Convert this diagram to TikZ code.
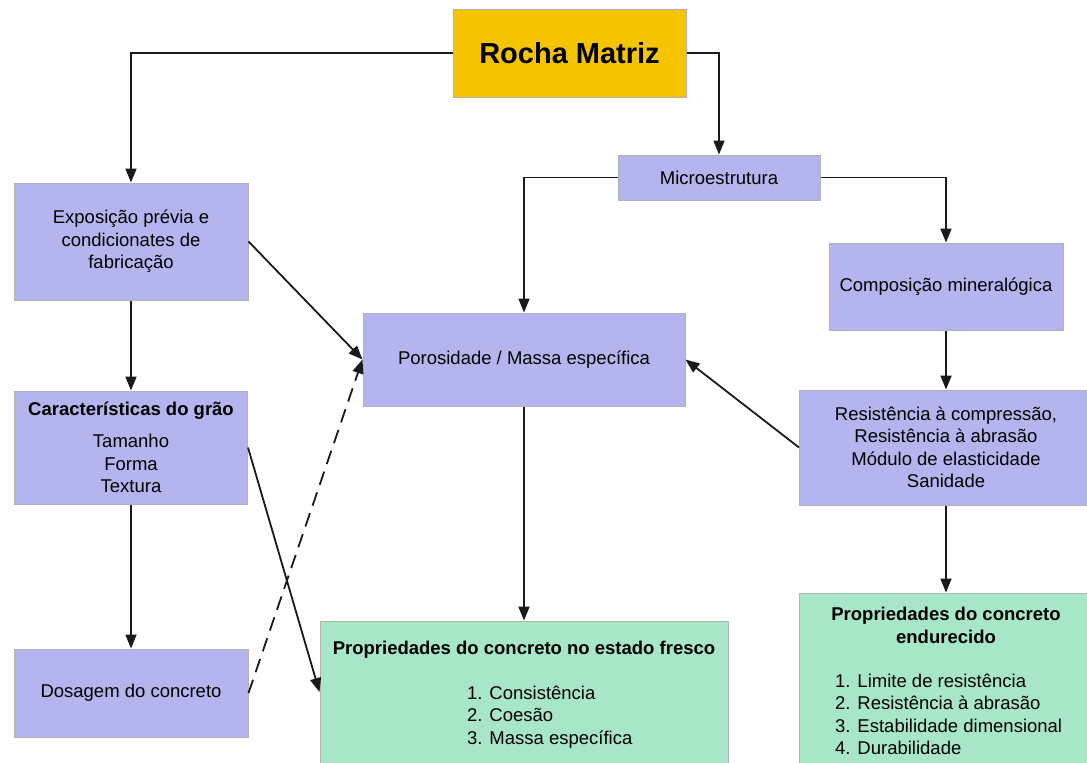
\documentclass[tikz,border=0pt]{standalone}
\usepackage{fontspec}
\setmainfont{Liberation Sans}
\usetikzlibrary{positioning,arrows.meta}
\definecolor{boxLavender}{HTML}{B4B4EE}
\definecolor{boxGreen}{HTML}{A8E6C8}
\definecolor{boxGold}{HTML}{F5C400}
\definecolor{lineDark}{HTML}{1A1A1A}

\tikzset{
  box/.style={draw=gray!60, line width=1pt, fill=boxLavender, inner sep=0pt, align=center,
    font=\fontsize{18.5}{22.5}\selectfont},
  propbox/.style={box, fill=boxGreen},
  txt/.style={inner sep=0pt, font=\fontsize{18.5}{22.5}\selectfont},
  link/.style={draw=lineDark, line width=1.8pt, -{Triangle[length=14pt,width=11pt]}},
  dashlink/.style={link, dash pattern=on 14pt off 8pt}
}

\begin{document}
\begin{tikzpicture}[x=1pt,y=-1pt]
  \clip (0,0) rectangle (1087,763);
  \fill[white] (0,0) rectangle (1087,763);

  % boxes
  \node[box, fill=boxGold, minimum width=233pt, minimum height=88pt,
    font=\fontsize{29}{32}\selectfont\bfseries] (rocha) at (569.5,53) {Rocha Matriz};
  \node[box, minimum width=202pt, minimum height=45pt] (micro) at (719,177.5) {Microestrutura};
  \node[box, minimum width=234pt, minimum height=117pt] (expo) at (131,241.5)
    {Exposição prévia e\\condicionates de\\fabricação};
  \node[box, minimum width=234pt, minimum height=87pt] (compo) at (946,286.5) {Composição mineralógica};
  \node[box, minimum width=322pt, minimum height=93pt] (poros) at (524,359.5) {Porosidade / Massa específica};
  \node[box, minimum width=233pt, minimum height=113pt] (carac) at (131,447.5)
    {\textbf{Características do grão}\\[10pt]Tamanho\\Forma\\Textura};
  \node[box, minimum width=293pt, minimum height=115pt] (resist) at (946,447.5)
    {Resistência à compressão,\\Resistência à abrasão\\Módulo de elasticidade\\Sanidade};
  \node[box, minimum width=234pt, minimum height=88pt] (dosag) at (131,693) {Dosagem do concreto};
  \node[propbox, minimum width=408pt, minimum height=142pt] (fresco) at (524,692) {};
  \node[propbox, minimum width=293pt, minimum height=170pt] (endur) at (946,678) {};

  % texts of the green boxes
  \node[txt, below=20pt of fresco.north, font=\fontsize{18.5}{22.5}\selectfont\bfseries] (frescoTitle)
    {Propriedades do concreto no estado fresco};
  \node[txt, anchor=north west, align=left] (frescoList) at (467,685.5)
    {1. Consistência\\2. Coesão\\3. Massa específica};
  \node[txt, below=14.5pt of endur.north, align=center, font=\fontsize{18.5}{22.5}\selectfont\bfseries] (endurTitle)
    {Propriedades do concreto\\endurecido};
  \node[txt, anchor=north west, align=left] (endurList) at (835,673.5)
    {1. Limite de resistência\\2. Resistência à abrasão\\3. Estabilidade dimensional\\4. Durabilidade};

  % connectors
  \draw[link] (rocha.west) -| (expo.north);
  \draw[link] (rocha.east) -| (micro.north);
  \draw[link] (micro.west) -| (poros.north);
  \draw[link] (micro.east) -| (compo.north);
  \draw[link] (expo.east) -- (poros.west);
  \draw[link] (expo.south) -- (carac.north);
  \draw[link] (carac.south) -- (dosag.north);
  \draw[link] (carac.east) -- (fresco.west);
  \draw[dashlink] (dosag.east) -- (poros.west);
  \draw[link] (compo.south) -- (resist.north);
  \draw[link] (resist.west) -- (poros.east);
  \draw[link] (poros.south) -- (fresco.north);
  \draw[link] (resist.south) -- (endur.north);
\end{tikzpicture}
\end{document}
